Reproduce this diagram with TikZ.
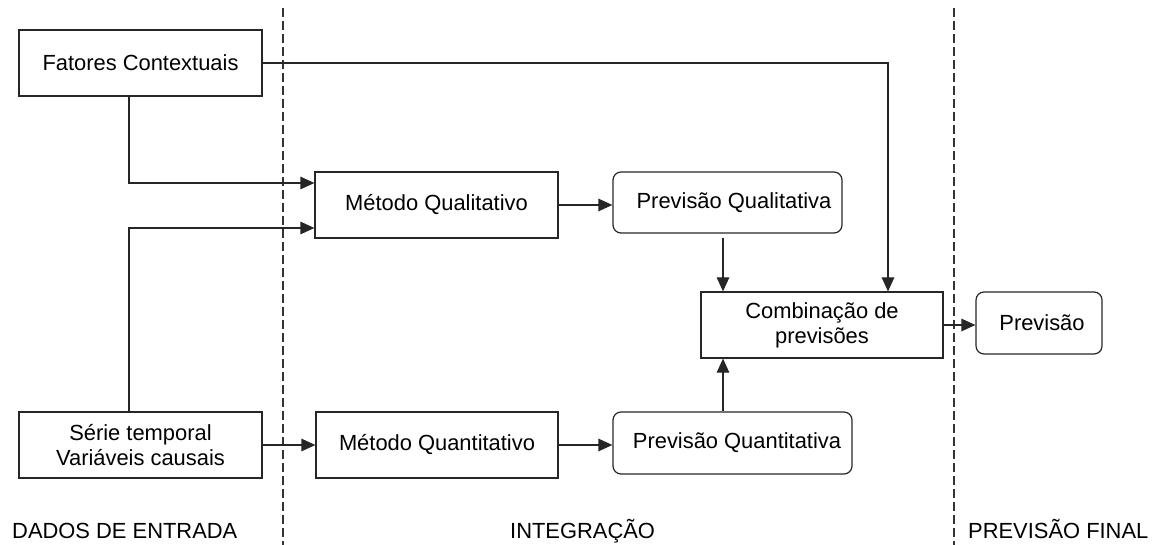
\documentclass[tikz,border=0pt]{standalone}
\usepackage{fontspec}
\setmainfont{Liberation Sans}
\usetikzlibrary{arrows.meta}
\begin{document}
\begin{tikzpicture}[x=1pt,y=-1pt,
  every node/.style={font=\fontsize{21.9}{25.2}\selectfont, inner sep=0pt, align=center},
  sqbox/.style={draw=black!85, line width=1.2pt, minimum width=#1, minimum height=66pt},
  rbox/.style={draw=black!85, line width=1.2pt, rounded corners=8pt, minimum width=#1, minimum height=62pt},
  arr/.style={draw=black!85, line width=1.2pt, -{Triangle[length=14pt,width=12.5pt]}},
  ln/.style={draw=black!85, line width=1.2pt},
  divider/.style={draw=black!80, line width=1.2pt, dash pattern=on 9pt off 4pt},
  lbl/.style={anchor=base west}]
\useasboundingbox (0,0) rectangle (1159,545);
% dividers
\coordinate (d1t) at (283,8); \coordinate (d1b) at (283,545);
\coordinate (d2t) at (954,8); \coordinate (d2b) at (954,545);
\draw[divider] (d1t) -- (d1b);
\draw[divider] (d2t) -- (d2b);
% nodes
\node[sqbox=243pt] (fat) at (140.5,63) {Fatores Contextuais};
\node[sqbox=243pt] (mql) at (436.5,205) {Método Qualitativo};
\node[rbox=229pt, minimum height=61pt] (pql) at (727.5,202.5) {};
\node at (734,202.5) {Previsão Qualitativa};
\node[sqbox=242pt] (comb) at (822,325) {Combinação de\\previsões};
\node[rbox=126pt] (prev) at (1039,323) {};
\node at (1042,323) {Previsão};
\node[sqbox=243pt] (serie) at (140.5,445) {Série temporal\\Variáveis causais};
\node[sqbox=242pt] (mqt) at (437,445) {Método Quantitativo};
\node[rbox=239pt] (pqt) at (732.5,443) {};
\node at (737,443) {Previsão Quantitativa};
% labels
\node[lbl] (l1) at (12,538) {DADOS DE ENTRADA};
\node[lbl] (l2) at (510,538) {INTEGRAÇÃO};
\node[lbl] (l3) at (968,538) {PREVISÃO FINAL};
% helper coordinates
\coordinate (fx) at (129,0);
\coordinate (cx) at (723,0);
\coordinate (gx) at (888,0);
% connectors
\draw[arr] (fat.south -| fx) |- ([yshift=22pt]mql.west);
\draw[arr] (serie.north -| fx) |- ([yshift=-23pt]mql.west);
\draw[arr] (mql.east) -- (mql.east -| pql.west);
\draw[arr, shorten <=4pt] (pql.south -| cx) -- (comb.north -| cx);
\draw[arr] (pqt.north -| cx) -- (comb.south -| cx);
\draw[arr] (fat.east) -| (comb.north -| gx);
\draw[arr] (comb.east) -- (comb.east -| prev.west);
\draw[arr] (serie.east) -- (mqt.west);
\draw[arr] (mqt.east) -- (mqt.east -| pqt.west);
\end{tikzpicture}
\end{document}
